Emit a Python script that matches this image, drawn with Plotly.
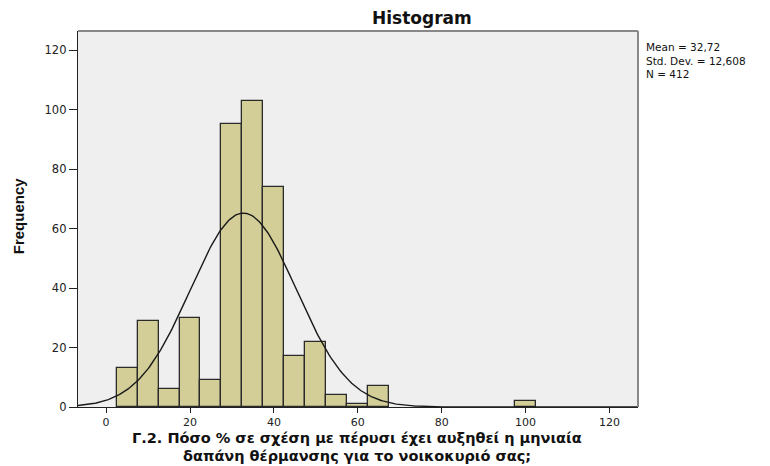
import numpy as np
import plotly.graph_objects as go

# Data (bin centers, width 5)
bin_centers = [5, 10, 15, 20, 25, 30, 35, 40, 45, 50, 55, 60, 65, 100]
counts = [13, 29, 6, 30, 9, 95, 103, 74, 17, 22, 4, 1, 7, 2]
bin_width = 5
mean_val = 32.72
std_val = 12.608
n_val = 412

x_ticks = [0, 20, 40, 60, 80, 100, 120]
y_ticks = [0, 20, 40, 60, 80, 100, 120]

x_range = [-6.7, 126.8]
y_range = [0, 126.4]

# page body has an 8px margin: figure sits at (8, 8) in the window
OFF = 8
W, H = 770 - OFF, 466 - OFF
L, T = 78 - OFF, 31 - OFF
R = W - (638 - OFF)
B = H - (407.5 - OFF)
PW, PH = W - L - R, H - T - B


def px_x(px):
    return (px - OFF - L) / PW


def px_y(py):
    return (H - B - (py - OFF)) / PH


FONT = "DejaVu Sans, Liberation Sans, Arial, sans-serif"

fig = go.Figure()
fig.add_trace(go.Bar(
    x=bin_centers, y=counts, width=[bin_width] * len(bin_centers),
    marker=dict(color="#D3CE97", line=dict(color="#2a2a2a", width=1.3)),
    showlegend=False, hoverinfo="x+y"))

xs = np.linspace(x_range[0], x_range[1], 400)
ys = n_val * bin_width * np.exp(-0.5 * ((xs - mean_val) / std_val) ** 2) / (std_val * np.sqrt(2 * np.pi))
fig.add_trace(go.Scatter(x=xs, y=ys, mode="lines",
                         line=dict(color="#1a1a1a", width=1.4), showlegend=False, hoverinfo="skip"))

stats_lines = [
    f"Mean = {str(mean_val).replace('.', ',')}",
    f"Std. Dev. = {str(std_val).replace('.', ',')}",
    f"N = {n_val}",
]
xtitle_lines = [
    "Γ.2. Πόσο % σε σχέση με πέρυσι έχει αυξηθεί η μηνιαία",
    "δαπάνη θέρμανσης για το νοικοκυριό σας;",
]

annotations = [
    dict(text="<br>".join(stats_lines), xref="paper", yref="paper", x=px_x(645), y=px_y(40),
         xanchor="left", yanchor="top", showarrow=False, align="left", borderpad=0,
         font=dict(size=10.5, color="#111", family=FONT)),
    dict(text="<b>Histogram</b>", xref="paper", yref="paper", x=px_x(421.5), y=px_y(18),
         xanchor="center", yanchor="middle", showarrow=False,
         font=dict(size=17, color="#111", family=FONT)),
    dict(text="<b>Frequency</b>", xref="paper", yref="paper", x=px_x(18.5), y=px_y(216),
         xanchor="center", yanchor="middle", showarrow=False, textangle=-90,
         font=dict(size=15, color="#111", family="Liberation Sans Narrow, Arial Narrow, sans-serif")),
]
for i, s in enumerate(xtitle_lines):
    annotations.append(dict(text=f"<b>{s}</b>", xref="paper", yref="paper", x=px_x(357),
                            y=px_y(438.5 + 18 * i), xanchor="center", yanchor="middle",
                            showarrow=False, borderpad=0,
                            font=dict(size=14.5, color="#111", family=FONT)))

fig.update_layout(
    width=W, height=H,
    margin=dict(l=L, r=R, t=T, b=B),
    paper_bgcolor="white", plot_bgcolor="#EFEFEF",
    font=dict(family=FONT, size=11, color="#111"),
    bargap=0,
    xaxis=dict(range=x_range, tickvals=x_ticks, ticks="outside", ticklen=5, tickwidth=1.4,
               tickcolor="#222", showgrid=False, zeroline=False, showline=True,
               linecolor="#222", linewidth=1.4, automargin=False,
               tickfont=dict(size=11, color="#222", family=FONT)),
    yaxis=dict(range=y_range, tickvals=y_ticks, ticks="outside", ticklen=8, tickwidth=1.4,
               tickcolor="#222", showgrid=False, zeroline=False, showline=True,
               linecolor="#222", linewidth=1.4, automargin=False,
               tickfont=dict(size=11.5, color="#222", family=FONT)),
    shapes=[
        dict(type="line", xref="paper", yref="paper", x0=0, x1=1, y0=1, y1=1,
             line=dict(color="#888", width=2)),
        dict(type="line", xref="paper", yref="paper", x0=1, x1=1, y0=0, y1=1,
             line=dict(color="#888", width=2)),
    ],
    annotations=annotations,
)

fig.write_html("out.html")
